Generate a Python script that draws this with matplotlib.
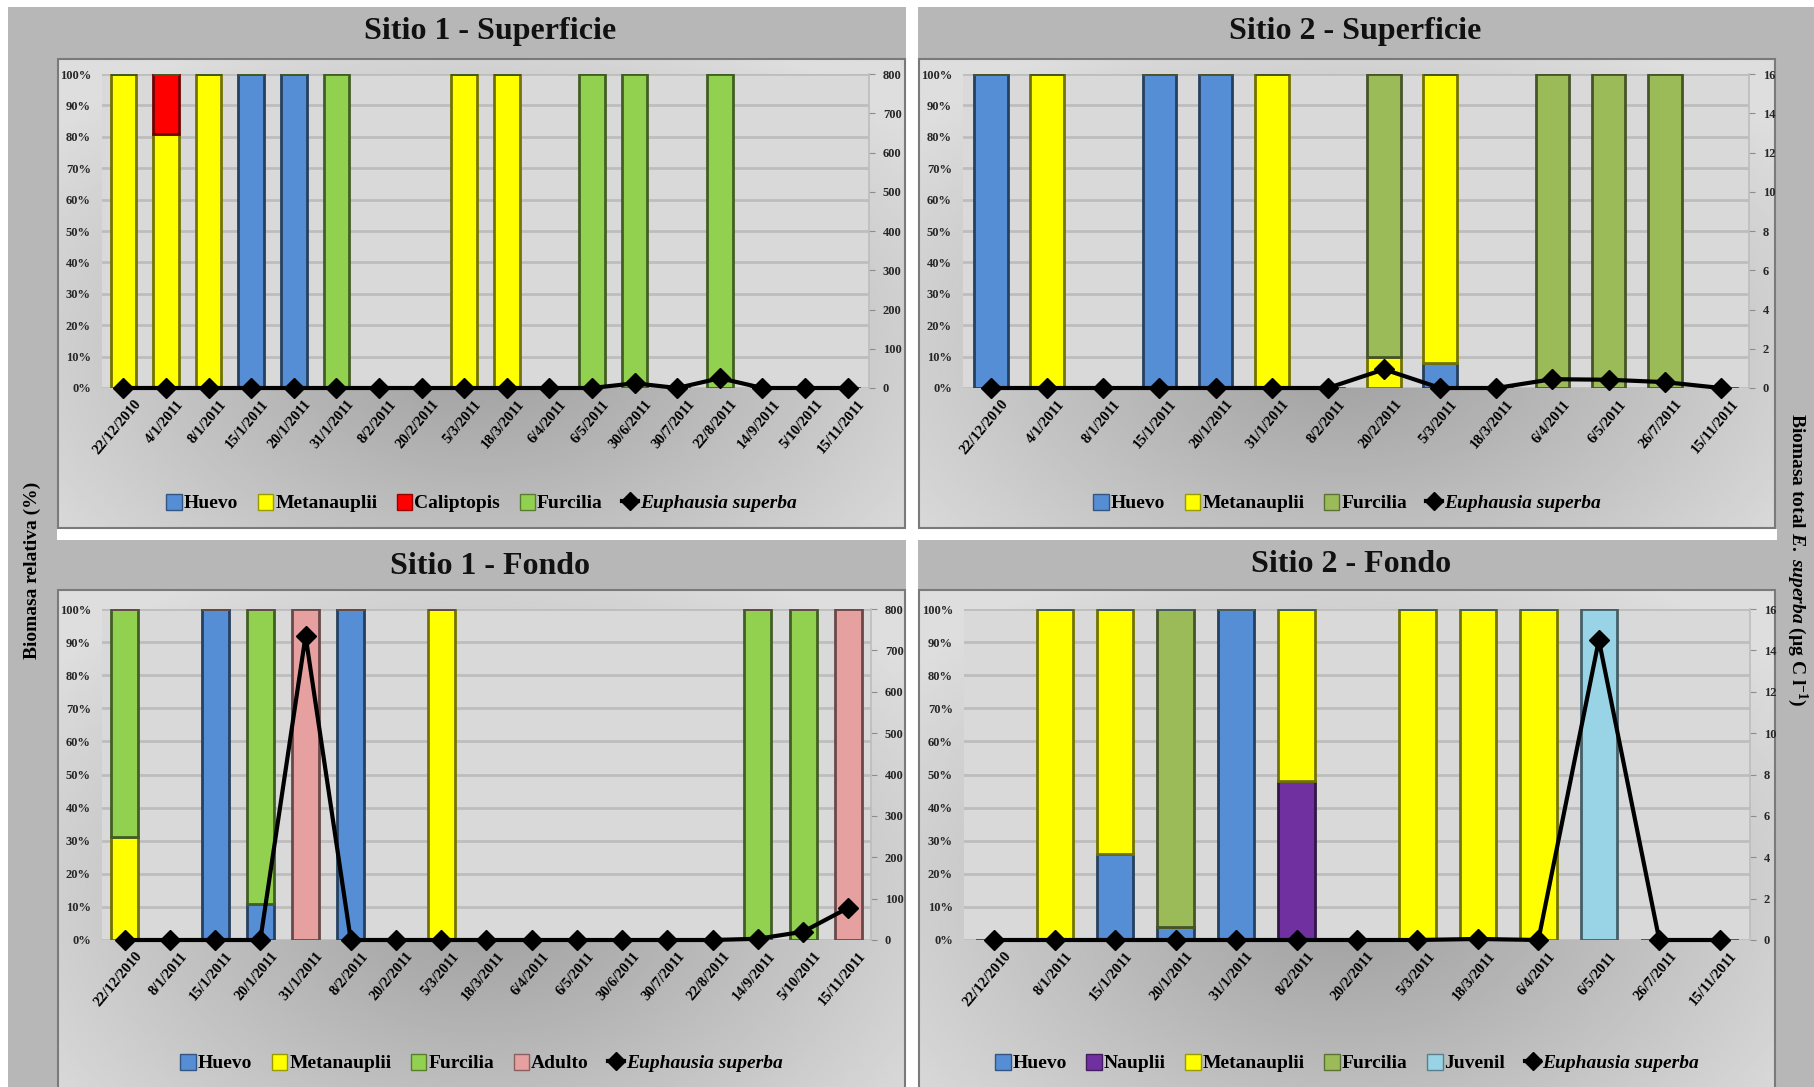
import matplotlib as mpl
mpl.use('Agg')
import matplotlib.pyplot as plt
import matplotlib.transforms as mtrans
from matplotlib.patches import Rectangle
from matplotlib.lines import Line2D
import numpy as np

# --- datos -------------------------------------------------------------
fechas_s1_sup = ['22/12/2010', '4/1/2011', '8/1/2011', '15/1/2011', '20/1/2011', '31/1/2011',
                 '8/2/2011', '20/2/2011', '5/3/2011', '18/3/2011', '6/4/2011', '6/5/2011',
                 '30/6/2011', '30/7/2011', '22/8/2011', '14/9/2011', '5/10/2011', '15/11/2011']
huevo_s1_sup = [0, 0, 0, 100, 100, 0, 0, 0, 0, 0, 0, 0, 0, 0, 0, 0, 0, 0]
meta_s1_sup = [100, 81, 100, 0, 0, 0, 0, 0, 100, 100, 0, 0, 0, 0, 0, 0, 0, 0]
calip_s1_sup = [0, 19, 0, 0, 0, 0, 0, 0, 0, 0, 0, 0, 0, 0, 0, 0, 0, 0]
furc_s1_sup = [0, 0, 0, 0, 0, 100, 0, 0, 0, 0, 0, 100, 100, 0, 100, 0, 0, 0]
total_s1_sup = [0, 0, 0, 0, 0, 0, 0, 0, 0, 0, 0, 0, 12, 0, 25, 0, 0, 0]

fechas_s2_sup = ['22/12/2010', '4/1/2011', '8/1/2011', '15/1/2011', '20/1/2011', '31/1/2011',
                 '8/2/2011', '20/2/2011', '5/3/2011', '18/3/2011', '6/4/2011', '6/5/2011',
                 '26/7/2011', '15/11/2011']
huevo_s2_sup = [100, 0, 0, 100, 100, 0, 0, 0, 8, 0, 0, 0, 0, 0]
meta_s2_sup = [0, 100, 0, 0, 0, 100, 0, 10, 92, 0, 0, 0, 0, 0]
furc_s2_sup = [0, 0, 0, 0, 0, 0, 0, 90, 0, 0, 100, 100, 100, 0]
total_s2_sup = [0, 0, 0, 0, 0, 0, 0, 0.95, 0, 0, 0.45, 0.42, 0.3, 0]

fechas_s1_fon = ['22/12/2010', '8/1/2011', '15/1/2011', '20/1/2011', '31/1/2011', '8/2/2011',
                 '20/2/2011', '5/3/2011', '18/3/2011', '6/4/2011', '6/5/2011', '30/6/2011',
                 '30/7/2011', '22/8/2011', '14/9/2011', '5/10/2011', '15/11/2011']
huevo_s1_fon = [0, 0, 100, 11, 0, 100, 0, 0, 0, 0, 0, 0, 0, 0, 0, 0, 0]
meta_s1_fon = [31, 0, 0, 0, 0, 0, 0, 100, 0, 0, 0, 0, 0, 0, 0, 0, 0]
furc_s1_fon = [69, 0, 0, 89, 0, 0, 0, 0, 0, 0, 0, 0, 0, 0, 100, 100, 0]
adulto_s1_fon = [0, 0, 0, 0, 100, 0, 0, 0, 0, 0, 0, 0, 0, 0, 0, 0, 100]
total_s1_fon = [0, 0, 0, 0, 735, 0, 0, 0, 0, 0, 0, 0, 0, 0, 3, 20, 78]

fechas_s2_fon = ['22/12/2010', '8/1/2011', '15/1/2011', '20/1/2011', '31/1/2011', '8/2/2011',
                 '20/2/2011', '5/3/2011', '18/3/2011', '6/4/2011', '6/5/2011', '26/7/2011',
                 '15/11/2011']
huevo_s2_fon = [0, 0, 26, 4, 100, 0, 0, 0, 0, 0, 0, 0, 0]
naup_s2_fon = [0, 0, 0, 0, 0, 48, 0, 0, 0, 0, 0, 0, 0]
meta_s2_fon = [0, 100, 74, 0, 0, 52, 0, 100, 100, 100, 0, 0, 0]
furc_s2_fon = [0, 0, 0, 96, 0, 0, 0, 0, 0, 0, 0, 0, 0]
juv_s2_fon = [0, 0, 0, 0, 0, 0, 0, 0, 0, 0, 100, 0, 0]
total_s2_fon = [0, 0, 0, 0, 0, 0, 0, 0, 0.05, 0, 14.5, 0, 0]

# colores
c_huevo = '#558ed5'
c_meta = '#ffff00'
c_calip = '#ff0000'
c_furc1 = '#92d050'
c_furc2 = '#9bbb59'
c_adulto = '#e6a0a0'
c_naup = '#7030a0'
c_juv = '#98d4e6'

W, H = 1815, 1087
plt.rcParams['font.family'] = 'Liberation Serif'
plt.rcParams['font.weight'] = 'bold'
plt.rcParams['mathtext.fontset'] = 'custom'
plt.rcParams['mathtext.rm'] = 'Liberation Serif:bold'
plt.rcParams['mathtext.it'] = 'Liberation Serif:italic:bold'
plt.rcParams['mathtext.bf'] = 'Liberation Serif:bold'

fig = plt.figure(figsize=(W / 100, H / 100), dpi=100)
fig.patch.set_facecolor('#b7b7b7')


def fbox(x0, y0, x1, y1):
    return [x0 / W, 1 - y1 / H, (x1 - x0) / W, (y1 - y0) / H]


def frect(x0, y0, x1, y1, color, z=-10):
    r = Rectangle((x0 / W, 1 - y1 / H), (x1 - x0) / W, (y1 - y0) / H,
                  transform=fig.transFigure, facecolor=color, edgecolor='none',
                  zorder=z)
    fig.add_artist(r)


# white separators
frect(0, 0, W, 7, 'white')
frect(0, 0, 8, H, 'white')
frect(906, 0, 918, H, 'white')
frect(57, 529, 1777, 540, 'white')


def darker(c, f=0.45):
    rgb = np.array(mpl.colors.to_rgb(c))
    return tuple(rgb * f)


def panel(chart_px, ax_px, title, title_xy, fechas, series, total, ymax2, leg_y):
    # chart area with soft gradient
    bg = fig.add_axes(fbox(*chart_px), zorder=-5)
    yy, xx = np.mgrid[0:1:200j, 0:1:300j]
    r = np.sqrt(((xx - 0.5) / 0.65) ** 2 + ((yy - 0.62) / 0.75) ** 2)
    g = np.clip(r, 0, 1)
    dark, light = 0.62, 0.87
    img = dark + (light - dark) * g
    bg.imshow(img, cmap='gray', vmin=0, vmax=1, extent=[0, 1, 0, 1], aspect='auto')
    bg.set_xlim(0, 1)
    bg.set_ylim(0, 1)
    bg.axis('off')
    bg.add_patch(Rectangle((0, 0), 1, 1, transform=bg.transAxes, fill=False,
                           edgecolor='#7a7a7a', linewidth=1.5, clip_on=False))

    fig.text(title_xy[0] / W, 1 - title_xy[1] / H, title, fontsize=23,
             fontweight='bold', ha='center', va='center', color='#111111')

    ax = fig.add_axes(fbox(*ax_px))
    ax.set_facecolor('#d9d9d9')
    x = np.arange(len(fechas))
    bottom = np.zeros(len(fechas))
    handles = []
    for label, vals, col in series:
        vals = np.array(vals, dtype=float)
        ax.bar(x, vals, width=0.6, bottom=bottom, color=col,
               edgecolor=darker(col), linewidth=2)
        bottom += vals
        handles.append(Rectangle((0, 0), 1, 1, facecolor=col, edgecolor=darker(col, 0.6)))
    ax.set_xlim(-0.5, len(fechas) - 0.5)
    ax.set_ylim(0, 100)
    ax.set_yticks(range(0, 101, 10))
    ax.set_yticklabels([f'{v}%' for v in range(0, 101, 10)])
    ax.yaxis.grid(True, color='#bdbdbd', linewidth=2)
    ax.set_axisbelow(True)
    ax.tick_params(axis='y', length=0, labelsize=9, pad=8, labelcolor='#262626')
    ax.tick_params(axis='x', length=0, labelsize=10.5, pad=10)
    ax.set_xticks(x)
    ax.set_xticklabels(fechas, rotation=50, ha='right', va='center',
                       rotation_mode='anchor')
    off = mtrans.ScaledTranslation(15 / 100, 0, fig.dpi_scale_trans)
    for t in ax.get_xticklabels():
        t.set_transform(t.get_transform() + off)
    for s in ax.spines.values():
        s.set_visible(False)

    ax2 = ax.twinx()
    ax2.plot(x, total, color='black', linewidth=3, marker='D', markersize=10,
             clip_on=False, zorder=5)
    ax2.set_ylim(0, ymax2)
    step = ymax2 / 8
    ticks = np.arange(0, ymax2 + step / 2, step)
    ax2.set_yticks(ticks)
    ax2.set_yticklabels([f'{int(v)}' for v in ticks])
    ax2.tick_params(axis='y', length=4, color='#8c8c8c', labelsize=9, pad=6,
                    labelcolor='#262626')
    for k, s in ax2.spines.items():
        s.set_visible(k == 'right')
    ax2.spines['right'].set_color('#bdbdbd')
    ax2.spines['right'].set_linewidth(1.2)

    handles.append(Line2D([0], [0], color='black', linewidth=3, marker='D', markersize=9))
    labels = [s[0] for s in series] + ['Euphausia superba']
    cx = (chart_px[0] + chart_px[2]) / 2
    leg = fig.legend(handles, labels, loc='center', bbox_to_anchor=(cx / W, 1 - leg_y / H),
                     ncol=len(labels), frameon=False, fontsize=14, handlelength=0.8,
                     handleheight=0.9, handletextpad=0.1, columnspacing=1.0)
    leg.get_texts()[-1].set_style('italic')


panel((58, 59, 905, 528), (102, 74, 869, 388), 'Sitio 1 - Superficie', (490, 31),
      fechas_s1_sup,
      [('Huevo', huevo_s1_sup, c_huevo), ('Metanauplii', meta_s1_sup, c_meta),
       ('Caliptopis', calip_s1_sup, c_calip), ('Furcilia', furc_s1_sup, c_furc1)],
      total_s1_sup, 800, 503)

panel((919, 59, 1775, 528), (963, 74, 1749, 388), 'Sitio 2 - Superficie', (1355, 31),
      fechas_s2_sup,
      [('Huevo', huevo_s2_sup, c_huevo), ('Metanauplii', meta_s2_sup, c_meta),
       ('Furcilia', furc_s2_sup, c_furc2)],
      total_s2_sup, 16, 503)

panel((58, 590, 905, 1095), (102, 609, 871, 940), 'Sitio 1 - Fondo', (490, 567),
      fechas_s1_fon,
      [('Huevo', huevo_s1_fon, c_huevo), ('Metanauplii', meta_s1_fon, c_meta),
       ('Furcilia', furc_s1_fon, c_furc1), ('Adulto', adulto_s1_fon, c_adulto)],
      total_s1_fon, 800, 1063)

panel((919, 590, 1775, 1095), (964, 609, 1750, 940), 'Sitio 2 - Fondo', (1351, 564),
      fechas_s2_fon,
      [('Huevo', huevo_s2_fon, c_huevo), ('Nauplii', naup_s2_fon, c_naup),
       ('Metanauplii', meta_s2_fon, c_meta), ('Furcilia', furc_s2_fon, c_furc2),
       ('Juvenil', juv_s2_fon, c_juv)],
      total_s2_fon, 16, 1063)

fig.text(32 / W, 1 - 570 / H, 'Biomasa relativa (%)', rotation=90, fontsize=14,
         fontweight='bold', ha='center', va='center')
fig.text(1797 / W, 1 - 560 / H, 'Biomasa total $E.\\ superba$ (µg C l$^{-1}$)',
         rotation=270, fontsize=14, fontweight='bold', ha='center', va='center')

fig.savefig('out.png', dpi=100, facecolor=fig.get_facecolor())
